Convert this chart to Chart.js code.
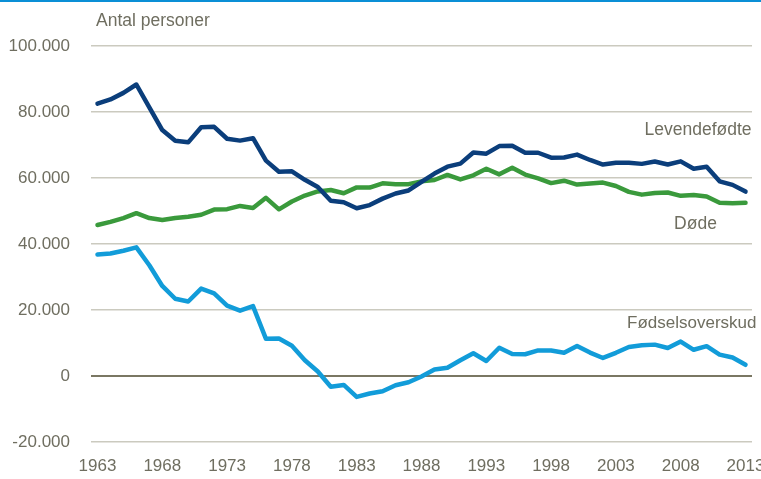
<!DOCTYPE html>
<html>
<head>
<meta charset="utf-8">
<script src="https://cdn.jsdelivr.net/npm/chart.js@4.4.1/dist/chart.umd.min.js"></script>
<style>
  html, body { margin: 0; padding: 0; background: #fff; }
  #wrap { position: relative; width: 761px; height: 479px; overflow: hidden; }
  #c { position: absolute; left: 0; top: 0; }
</style>
</head>
<body>
<div id="wrap"><canvas id="c" width="780" height="479"></canvas></div>
<script>
const years = [];
for (let y = 1963; y <= 2013; y++) years.push(String(y));

const levendefodte = [82541, 83802, 85796, 88332, 81410, 74543, 71298, 70802, 75359, 75505,
  71895, 71327, 72071, 65267, 61878, 62036, 59464, 57293, 53089, 52658,
  50822, 51800, 53749, 55312, 56221, 58844, 61351, 63433, 64358, 67726,
  67369, 69666, 69771, 67638, 67648, 66174, 66220, 67084, 65458, 64075,
  64599, 64609, 64282, 64984, 64082, 65038, 62818, 63411, 58998, 57916, 55873];

const dode = [45748, 46697, 47846, 49344, 47851, 47250, 47896, 48233, 48858, 50437,
  50567, 51542, 50895, 53994, 50509, 52864, 54687, 55939, 56359, 55368,
  57156, 57109, 58378, 58100, 58136, 58984, 59397, 60926, 59581, 60821,
  62809, 61099, 63127, 61043, 59898, 58453, 59179, 57998, 58355, 58610,
  57574, 55806, 54962, 55477, 55604, 54591, 54872, 54368, 52516, 52325, 52471];

const fodselsoverskud = [36793, 37105, 37950, 38988, 33559, 27293, 23402, 22569, 26501, 25068,
  21328, 19785, 21176, 11273, 11369, 9172, 4777, 1354, -3270, -2710,
  -6334, -5309, -4629, -2788, -1915, -140, 1954, 2507, 4777, 6905,
  4560, 8567, 6644, 6595, 7750, 7721, 7041, 9086, 7103, 5465,
  7025, 8803, 9320, 9507, 8478, 10447, 7946, 9043, 6482, 5591, 3402];

const yTicks = [-20000, 0, 20000, 40000, 60000, 80000, 100000];
const seriesNames = ['Levendefødte', 'Døde', 'Fødselsoverskud'];
const yTitle = 'Antal personer';

const FONT = '"Liberation Sans Narrow", "Arial Narrow", "Liberation Sans", Arial, sans-serif';
const TEXT = '#6f6e60';

function fmt(v) {
  const s = Math.abs(v).toString().replace(/\B(?=(\d{3})+(?!\d))/g, '.');
  return (v < 0 ? '-' : '') + s;
}

const annot = {
  id: 'annot',
  afterDraw(chart) {
    const ctx = chart.ctx;
    const x = chart.scales.x, y = chart.scales.y;
    ctx.save();
    ctx.fillStyle = '#0a8fd6';
    ctx.fillRect(0, 0, chart.width, 2);
    ctx.fillStyle = TEXT;
    ctx.font = '17.5px ' + FONT;
    ctx.textBaseline = 'middle';
    ctx.textAlign = 'left';
    ctx.fillText(yTitle, 96, 21);
    const last = x.getPixelForValue(years.length - 1);
    ctx.font = '17.5px ' + FONT;
    ctx.textAlign = 'right';
    ctx.fillText(seriesNames[0], last + 6, y.getPixelForValue(74400));
    ctx.font = '17px ' + FONT;
    ctx.fillText(seriesNames[2], last + 11, y.getPixelForValue(16000));
    ctx.textAlign = 'center';
    ctx.font = '17.5px ' + FONT;
    ctx.fillText(seriesNames[1], last - 50, y.getPixelForValue(46100));
    ctx.restore();
  }
};

new Chart(document.getElementById('c'), {
  type: 'line',
  data: {
    labels: years,
    datasets: [
      { label: seriesNames[0], data: levendefodte, borderColor: '#0b3e7b', borderWidth: 4.5 },
      { label: seriesNames[1], data: dode, borderColor: '#3a9a3c', borderWidth: 4.5 },
      { label: seriesNames[2], data: fodselsoverskud, borderColor: '#129cd9', borderWidth: 4.5 }
    ]
  },
  options: {
    responsive: false,
    animation: false,
    events: [],
    layout: { padding: { left: 0, right: 28, top: 46, bottom: 0 } },
    elements: {
      point: { radius: 0 },
      line: { tension: 0, borderJoinStyle: 'round', borderCapStyle: 'round', fill: false }
    },
    plugins: { legend: { display: false }, tooltip: { enabled: false }, title: { display: false } },
    scales: {
      x: {
        type: 'category',
        offset: true,
        grid: { display: false, drawTicks: false },
        border: { display: false },
        afterFit(s) { s.height = 37; },
        ticks: {
          autoSkip: false,
          maxRotation: 0,
          padding: 14,
          color: TEXT,
          font: { family: FONT, size: 17 },
          callback(v, i) { return (i % 5 === 0) ? years[i] : ''; }
        }
      },
      y: {
        min: -20000,
        max: 100000,
        afterBuildTicks(s) { s.ticks = yTicks.map(v => ({ value: v })); },
        afterFit(s) { s.width = 91; },
        border: { display: false },
        grid: {
          drawTicks: false,
          color: c => c.tick && c.tick.value === 0 ? '#7a7763' : '#cbcabf',
          lineWidth: c => c.tick && c.tick.value === 0 ? 2 : 1.5
        },
        ticks: {
          padding: 21,
          color: TEXT,
          font: { family: FONT, size: 17 },
          callback: v => fmt(v)
        }
      }
    }
  },
  plugins: [annot]
});
</script>
</body>
</html>
